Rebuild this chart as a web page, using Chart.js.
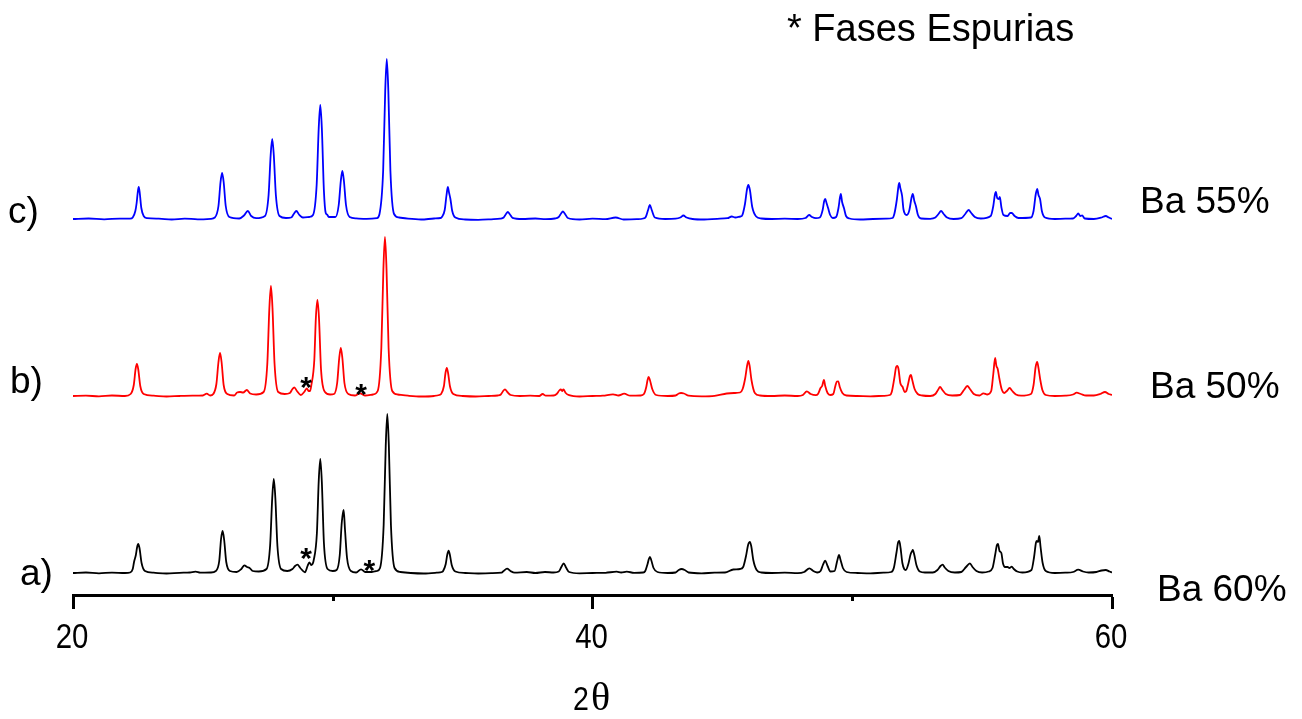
<!DOCTYPE html>
<html>
<head>
<meta charset="utf-8">
<script src="https://cdn.jsdelivr.net/npm/chart.js@4.4.1/dist/chart.umd.min.js"></script>
<style>
  html, body { margin: 0; padding: 0; background: #ffffff; overflow: hidden; }
  #wrap { position: relative; width: 1302px; height: 719px; }
</style>
</head>
<body>
<div id="wrap"><canvas id="xrd" width="1302" height="719"></canvas></div>
<script>
// Sample tags, names and colours (bottom to top)
const sampleTags = ['a)', 'b)', 'c)'];
const sampleNames = ['Ba 60%', 'Ba 50%', 'Ba 55%'];
const traceColors = ['#000000', '#ff0000', '#0000ff'];
// Vertical stacking offset of each pattern (intensity units)
const baselineOffsets = [22, 199, 376];

// 2θ axis ticks
const tickValues = [20, 30, 40, 50, 60];
const tickLabels = ['20', '', '40', '', '60'];

// Diffraction patterns: [2θ, intensity above baseline]
const ba60 = [
  [20.0,0],[20.5,0.5],[21.0,-0.3],[21.5,0.4],[22.0,0],[22.2,0.5],
  [22.30,4],[22.35,11],[22.42,18],[22.47,26],[22.51,29],[22.56,25],[22.64,10],[22.77,2],
  [23.1,0.3],[23.6,-0.5],[24.1,0.2],[24.5,0.5],[24.72,1.3],[24.9,0.3],[25.3,0.5],
  [25.50,2],[25.63,12],[25.70,34],[25.76,42],[25.82,33],[25.90,11],[26.04,2],
  [26.3,1],[26.48,4],[26.60,7.7],[26.70,6],[26.79,5.3],[26.92,2],[27.15,1.5],
  [27.45,4],[27.59,28],[27.67,75],[27.73,94],[27.79,75],[27.87,27],[28.01,4],
  [28.25,2],[28.45,4],[28.55,7],[28.64,8.3],[28.75,5],[28.93,0.7],[29.03,7],[29.10,10.7],[29.17,8],[29.22,9],
  [29.26,12],[29.39,40],[29.46,92],[29.52,114],[29.58,91],[29.66,30],[29.80,4],[30.00,2],
  [30.15,3],[30.27,18],[30.34,48],[30.37,56],[30.42,63],[30.47,44],[30.55,15],[30.70,2],
  [30.9,0.5],[31.09,3.7],[31.25,1],[31.5,1],[31.7,2],
  [31.82,5],[31.96,48],[32.04,127],[32.10,159],[32.16,127],[32.24,48],[32.38,5],[32.6,1],
  [33.0,0],[33.5,-0.5],[34.0,0.3],[34.2,1],
  [34.25,2],[34.35,9],[34.41,18.5],[34.46,22.3],[34.51,18],[34.58,8],[34.72,1.5],
  [35.1,0],[35.6,-0.5],[36.1,-0.2],[36.5,0.3],
  [36.58,2],[36.71,4.3],[36.84,2],[37.0,0.3],[37.47,1],[37.8,0],[38.17,1],[38.5,0.5],
  [38.70,1.5],[38.80,6],[38.89,9.7],[38.98,5.5],[39.10,1],
  [39.5,-0.3],[40.0,0],[40.5,0.2],[40.93,1.3],[41.1,0.5],[41.32,1.3],[41.6,0.2],[41.95,0.5],
  [42.03,2],[42.12,9],[42.17,14],[42.21,16],[42.26,13],[42.35,5],[42.50,1],
  [42.9,0],[43.2,0.5],[43.32,3],[43.43,4],[43.55,3],[43.7,0.5],
  [44.2,-0.3],[44.7,0.3],[45.1,0.5],[45.42,3.5],[45.68,4],
  [45.80,6],[45.91,17],[45.99,28],[46.06,31],[46.11,27],[46.19,13],[46.32,3],[46.5,0.5],
  [46.9,0],[47.4,0.3],[47.9,-0.2],[48.15,1],[48.35,4.7],[48.50,2],[48.65,0.5],
  [48.78,2],[48.87,8],[48.96,12.3],[49.05,7],[49.16,1.5],
  [49.32,2],[49.41,11],[49.47,17],[49.49,18],[49.55,13],[49.64,5],[49.78,1],
  [50.2,0],[50.7,-0.3],[51.2,0.3],[51.5,1],
  [51.60,5],[51.70,20],[51.77,31],[51.81,32],[51.86,25],[51.93,10],[52.00,4],[52.06,3],
  [52.16,9],[52.25,19],[52.31,22],[52.33,23],[52.39,18],[52.47,8],[52.60,1.5],[52.8,0.5],
  [53.1,0.5],[53.28,3],[53.40,7],[53.48,8.3],[53.56,5.5],[53.7,2],[53.95,0.5],
  [54.2,1],[54.38,6],[54.53,9.7],[54.63,6],[54.78,2],[55.0,0.5],[55.25,1.5],
  [55.40,5],[55.50,18],[55.57,28],[55.61,29],[55.67,22],[55.74,20],[55.80,10],[55.88,6],
  [55.98,6],[56.05,5],[56.14,6.3],[56.22,4],[56.35,1.5],[56.55,0.5],
  [56.90,3],[57.00,16],[57.07,30],[57.10,32],[57.15,31],[57.20,37],[57.25,26],[57.33,10],[57.45,2],
  [57.8,0],[58.2,0.3],[58.5,1],[58.70,3.3],[58.88,1.5],[59.1,0.5],[59.4,1],[59.6,2.5],[59.76,3],[59.9,1.5],[60.0,0.5]
];

const ba50 = [
  [20.0,0],[20.5,0.4],[21.0,-0.4],[21.5,0.5],[22.0,0],
  [22.22,2],[22.34,11],[22.41,27],[22.46,32],[22.51,27],[22.59,10],[22.72,2],
  [23.1,0.3],[23.6,-0.5],[24.1,0],[24.6,0.3],[25.0,0.5],[25.15,2.3],[25.28,0.5],
  [25.40,2],[25.52,12],[25.60,34],[25.66,43],[25.72,34],[25.80,11],[25.94,2],
  [26.2,0.5],[26.32,3.5],[26.43,4],[26.55,3.5],[26.69,6],[26.82,2.5],[27.05,1.5],
  [27.34,4],[27.48,32],[27.56,88],[27.62,110],[27.68,88],[27.76,32],[27.90,4],
  [28.15,2],[28.35,3],[28.45,7],[28.52,8.7],[28.62,5],[28.77,1],[28.90,4],[29.00,7.7],[29.07,5],[29.13,5],
  [29.17,10],[29.29,36],[29.35,78],[29.41,96],[29.47,78],[29.55,26],[29.70,4],[29.90,1.5],
  [30.05,2],[30.17,13],[30.25,38],[30.31,48],[30.37,38],[30.45,13],[30.60,2],
  [30.85,0.5],[31.05,2.7],[31.25,0.5],[31.55,1.5],
  [31.73,5],[31.87,48],[31.95,127],[32.01,159],[32.07,127],[32.15,48],[32.29,5],[32.5,1.5],
  [32.9,0.3],[33.4,-0.5],[33.9,0],[34.1,1],
  [34.17,2],[34.28,10],[34.34,23],[34.39,28],[34.44,23],[34.51,10],[34.64,2],
  [35.0,0],[35.5,-0.5],[36.0,0],[36.35,0.5],
  [36.47,1.5],[36.56,5],[36.63,6.7],[36.72,4],[36.85,1],
  [37.2,0],[37.6,0.3],[37.95,0],[38.08,2],[38.2,0.3],[38.5,0.5],
  [38.62,2],[38.72,5.5],[38.78,6.7],[38.83,5],[38.88,6.5],[38.97,3],[39.1,0.8],
  [39.5,-0.5],[40.0,0],[40.4,0.3],[40.79,1.7],[41.0,0.5],[41.22,2.3],[41.45,0.3],[41.85,0.5],
  [41.98,2],[42.07,9],[42.12,16],[42.16,19],[42.21,16],[42.30,7],[42.45,1],
  [42.9,0],[43.2,0.5],[43.32,2.5],[43.41,3],[43.52,2.5],[43.7,0.3],
  [44.2,-0.3],[44.7,0.2],[45.17,2.5],[45.45,3],[45.68,3.5],
  [45.78,7],[45.88,18],[45.95,30],[46.00,35],[46.05,30],[46.12,16],[46.25,3],[46.45,0.5],
  [46.9,0],[47.4,0.5],[47.9,0],[48.1,1],[48.25,4.7],[48.40,2],[48.6,0.8],
  [48.68,2],[48.78,8],[48.84,10],[48.91,16],[48.96,10],[49.05,3],[49.15,1],
  [49.27,2],[49.35,10],[49.41,14.5],[49.46,14.7],[49.52,9],[49.62,3],[49.78,0.5],
  [50.2,0],[50.7,-0.3],[51.2,0.2],[51.45,1],
  [51.52,4],[51.62,18],[51.69,29],[51.73,30],[51.78,27],[51.85,13],[51.94,9],[52.02,4],[52.08,5],
  [52.15,12],[52.22,20],[52.26,21],[52.31,16],[52.40,7],[52.52,2],[52.7,0.5],
  [53.0,0],[53.20,2],[53.30,6],[53.38,9],[53.47,6],[53.6,2],[53.85,0.5],
  [54.15,1],[54.30,6],[54.43,10],[54.53,7],[54.68,2],[54.9,0.5],[55.05,2.7],[55.2,1.5],
  [55.35,5],[55.43,22],[55.50,38],[55.55,30],[55.60,27],[55.66,18],[55.75,7],[55.85,3],
  [55.95,5],[56.06,8],[56.16,5],[56.30,1.5],[56.5,0.3],
  [56.88,2],[56.98,11],[57.06,29],[57.12,34],[57.17,28],[57.24,16],[57.32,6],[57.45,1],
  [57.8,0],[58.2,0.3],[58.5,1.5],[58.64,3.3],[58.80,2],[59.0,0.5],[59.3,0.5],[59.55,2],[59.73,4],[59.87,2],[60.0,1]
];

const ba55 = [
  [20.0,0],[20.6,0.5],[21.2,-0.3],[21.8,0.4],[22.2,0.3],
  [22.30,1.5],[22.40,8],[22.45,16],[22.49,26],[22.53,32],[22.57,26],[22.63,11],[22.72,3],[22.85,0.8],
  [23.3,0.3],[23.8,-0.5],[24.3,0.4],[24.8,-0.3],[25.3,0.2],
  [25.46,1.5],[25.60,13],[25.68,37],[25.74,46],[25.80,37],[25.88,13],[26.02,2],
  [26.40,0.5],[26.58,3.5],[26.73,8],[26.86,3],[27.05,0.8],
  [27.39,3],[27.53,24],[27.61,64],[27.67,80],[27.73,64],[27.81,24],[27.95,3],
  [28.2,1],[28.40,1.5],[28.50,5],[28.60,8],[28.70,4.5],[28.85,1.5],[29.1,2],
  [29.24,4],[29.38,34],[29.46,91],[29.52,114],[29.58,91],[29.66,28],[29.73,6],[29.78,4.5],[29.85,2],
  [30.10,2],[30.23,14],[30.31,38],[30.37,48],[30.43,38],[30.51,14],[30.65,2],
  [30.9,0.6],[31.3,0.2],[31.7,0.8],
  [31.80,5],[31.94,48],[32.02,128],[32.08,160],[32.14,128],[32.22,48],[32.36,5],[32.55,1.5],
  [32.9,0.3],[33.4,-0.5],[33.9,0.5],[34.15,1],
  [34.20,2],[34.31,9],[34.38,24],[34.43,32],[34.48,26],[34.53,20],[34.60,8],[34.72,1.5],
  [35.1,-0.5],[35.6,-0.8],[36.1,-0.3],[36.45,0.3],
  [36.58,1.5],[36.67,5],[36.74,7],[36.81,5],[36.92,1.2],
  [37.3,0],[37.8,0.5],[38.2,-0.2],[38.55,0.5],
  [38.70,2],[38.79,5.5],[38.86,7.5],[38.93,5.5],[39.05,1],
  [39.5,-0.5],[40.0,0.3],[40.5,-0.2],[40.89,1.5],[41.2,-0.5],[41.7,-0.2],[41.95,0.5],
  [42.05,2],[42.14,9],[42.21,14],[42.28,9],[42.40,1.5],
  [42.8,0],[43.2,0.3],[43.38,1.5],[43.50,3.5],[43.62,1.5],[43.85,0],
  [44.3,-0.5],[44.8,0.2],[45.2,0.8],[45.36,2.5],[45.5,1.5],[45.7,2.5],
  [45.75,3],[45.87,15],[45.95,30],[46.00,34],[46.06,29],[46.15,12],[46.30,2.5],[46.5,0.5],
  [46.9,0],[47.4,0.3],[47.9,0],[48.2,1],[48.34,4],[48.45,2],[48.6,0.8],
  [48.75,1.5],[48.86,9],[48.92,18],[48.96,20],[49.01,16],[49.07,11],[49.15,4],[49.25,1],
  [49.38,2],[49.47,11],[49.53,22],[49.56,25],[49.61,17],[49.68,11],[49.76,3],[49.9,0.5],
  [50.3,-0.5],[50.8,0],[51.3,0.3],[51.55,1],
  [51.62,5],[51.72,20],[51.78,33],[51.81,36],[51.85,31],[51.92,23],[51.97,10],[52.03,5],[52.10,4],
  [52.20,9],[52.28,21],[52.33,25],[52.39,18],[52.45,13],[52.53,4],[52.65,0.5],
  [53.0,0.2],[53.2,1.5],[53.32,5],[53.42,8],[53.52,5],[53.65,1.5],[53.9,0],
  [54.2,0.8],[54.35,5],[54.48,9],[54.58,6],[54.72,2],[54.95,0.5],
  [55.33,3],[55.43,13],[55.49,24],[55.53,27],[55.58,21],[55.64,20],[55.68,22],[55.74,12],[55.82,4],
  [55.98,3],[56.08,6],[56.14,6],[56.25,3],[56.4,1],
  [56.88,1.5],[56.98,8],[57.06,24],[57.12,30],[57.17,24],[57.23,20],[57.30,8],[57.42,1.5],
  [57.8,0],[58.2,0.3],[58.5,0.5],[58.62,3],[58.70,5.5],[58.78,3],[58.85,3.5],[58.95,0.5],
  [59.3,0],[59.6,1.5],[59.76,3],[59.88,1.5],[60.0,0]
];

// Spurious-phase markers: [pattern index, 2θ, height above baseline]
const spuriousMarks = [[0, 28.97, 22], [0, 31.41, 10.5], [1, 28.97, 16], [1, 31.09, 9]];

const patterns = [ba60, ba50, ba55];

const datasets = patterns.map((p, i) => ({
  label: sampleNames[i],
  data: p.map(([x, y]) => ({ x: x, y: y + baselineOffsets[i] })),
  borderColor: traceColors[i],
  borderWidth: 1.8,
  pointRadius: 0,
  fill: false,
  cubicInterpolationMode: 'monotone'
}));

const SANS = '"Liberation Sans", Arial, sans-serif';
const SERIF = '"Liberation Serif", "Times New Roman", serif';

// Text squeezed horizontally (tall, narrow glyphs)
function squeezedText(ctx, text, x, y, sx) {
  ctx.save();
  ctx.translate(x, y);
  ctx.scale(sx, 1);
  ctx.fillText(text, 0, 0);
  ctx.restore();
}

// Annotation text: tick labels, labels, axis title, minor ticks and spurious-phase stars
const decorations = {
  id: 'decorations',
  afterDraw(chart) {
    const { ctx, scales } = chart;
    const xs = scales.x, ys = scales.y;
    const axisY = chart.chartArea.bottom;
    ctx.save();

    // short minor ticks at unlabeled positions
    ctx.strokeStyle = '#000';
    ctx.lineWidth = 3;
    tickValues.forEach((v, i) => {
      if (tickLabels[i]) return;
      const px = Math.round(xs.getPixelForValue(v)) + 0.5;
      ctx.beginPath();
      ctx.moveTo(px, axisY);
      ctx.lineTo(px, axisY + 6);
      ctx.stroke();
    });

    ctx.fillStyle = '#000';
    ctx.textBaseline = 'alphabetic';

    // tick labels
    ctx.font = '35px ' + SANS;
    ctx.textAlign = 'center';
    tickValues.forEach((v, i) => {
      if (!tickLabels[i]) return;
      squeezedText(ctx, tickLabels[i], xs.getPixelForValue(v) - 1, axisY + 53, 0.84);
    });

    // spurious phase stars
    ctx.font = 'bold 30px ' + SANS;
    spuriousMarks.forEach(([s, x, h]) => {
      const px = xs.getPixelForValue(x);
      const py = ys.getPixelForValue(h + baselineOffsets[s]);
      ctx.fillText('*', px, py + 17);
    });

    // sample tags on the left, compositions on the right
    ctx.textAlign = 'left';
    ctx.font = '37px ' + SANS;
    const tagPos = [[20, 585], [10, 393], [8, 223]];
    const namePos = [[1157, 601], [1150, 398], [1140, 213]];
    sampleTags.forEach((t, i) => ctx.fillText(t, tagPos[i][0], tagPos[i][1]));
    sampleNames.forEach((t, i) => ctx.fillText(t, namePos[i][0], namePos[i][1]));

    // legend note
    ctx.font = '38px ' + SANS;
    ctx.fillText('* Fases Espurias', 787, 41);

    // axis title 2θ
    ctx.font = '34px ' + SANS;
    const w2 = ctx.measureText('2').width * 0.84;
    squeezedText(ctx, '2', 573, 710, 0.84);
    ctx.font = '40px ' + SERIF;
    ctx.fillText('θ', 575 + w2, 710);

    ctx.restore();
  }
};

new Chart(document.getElementById('xrd'), {
  type: 'line',
  data: { datasets },
  options: {
    responsive: false,
    animation: false,
    devicePixelRatio: 1,
    layout: { padding: { left: 73, right: 190, top: 35, bottom: 0 } },
    plugins: { legend: { display: false }, tooltip: { enabled: false } },
    scales: {
      x: {
        type: 'linear',
        position: 'bottom',
        min: 20,
        max: 60,
        afterBuildTicks: (scale) => { scale.ticks = tickValues.map(v => ({ value: v })); },
        afterFit: (scale) => { scale.height = 124; },
        ticks: { display: false },
        grid: {
          drawOnChartArea: false,
          drawTicks: true,
          tickLength: 14,
          tickWidth: 3,
          tickColor: (c) => {
            const i = c.tick ? tickValues.indexOf(c.tick.value) : -1;
            return i >= 0 && tickLabels[i] ? '#000' : 'rgba(0,0,0,0)';
          }
        },
        border: { display: true, color: '#000', width: 3 }
      },
      y: {
        display: false,
        min: 0,
        max: 560
      }
    }
  },
  plugins: [decorations]
});
</script>
</body>
</html>
